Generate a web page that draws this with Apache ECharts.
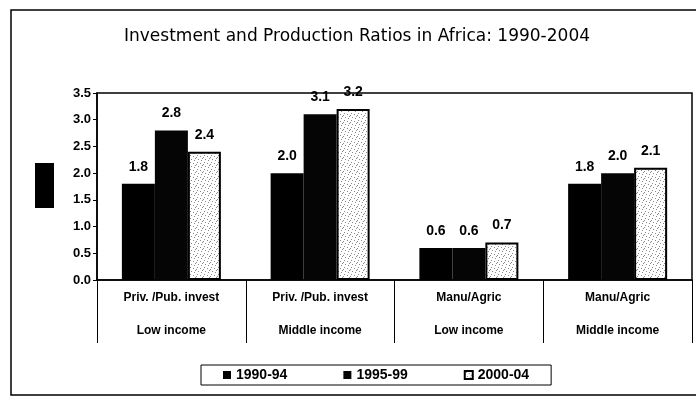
<!DOCTYPE html>
<html>
<head>
<meta charset="utf-8">
<script src="https://cdn.jsdelivr.net/npm/echarts@6/dist/echarts.min.js"></script>
<style>
html, body { margin: 0; padding: 0; background: #fff; }
#chart { width: 696px; height: 400px; }
</style>
</head>
<body>
<div id="chart"></div>
<script>
var measures = ['Priv. /Pub. invest', 'Priv. /Pub. invest', 'Manu/Agric', 'Manu/Agric'];
var incomeGroups = ['Low income', 'Middle income', 'Low income', 'Middle income'];
var periods = ['1990-94', '1995-99', '2000-04'];
var p1990 = [1.8, 2.0, 0.6, 1.8];
var p1995 = [2.8, 3.1, 0.6, 2.0];
var p2000 = [2.4, 3.2, 0.7, 2.1];
var yTicks = { min: 0, max: 3.5, step: 0.5 };

var categories = measures.map(function (m, i) { return m + '\n' + incomeGroups[i]; });

// grey speckle fill for the last period
function speckle() {
	var c = document.createElement('canvas');
	c.width = 7; c.height = 7;
	var g = c.getContext('2d');
	g.fillStyle = '#fff';
	g.fillRect(0, 0, 7, 7);
	g.fillStyle = '#8a8a8a';
	[[1, 1], [4, 2], [2, 5], [6, 4], [5, 6], [0, 3]].forEach(function (p) {
		g.fillRect(p[0], p[1], 1, 1);
	});
	return c;
}

var font = 'Liberation Sans, Arial, sans-serif';
var labelStyle = {
	show: true,
	position: 'top',
	distance: 10,
	color: '#000',
	fontFamily: font,
	fontWeight: 'bold',
	fontSize: 14,
	formatter: function (p) { return p.value.toFixed(1); }
};

var myChart = echarts.init(document.getElementById('chart'));
var option = {
	backgroundColor: '#fff',
	animation: false,
	title: {
		text: 'Investment and Production Ratios in Africa: 1990-2004',
		left: 119,
		top: 23,
		textStyle: { color: '#000', fontFamily: 'DejaVu Sans', fontWeight: 'normal', fontSize: 17 }
	},
	graphic: [{
		type: 'rect',
		shape: { x: 11, y: 10, width: 690, height: 385 },
		style: { fill: 'none', stroke: '#000', lineWidth: 1.5 },
		silent: true
	}, {
		type: 'rect',
		shape: { x: 35, y: 163, width: 19, height: 45 },
		style: { fill: '#000' },
		silent: true
	}],
	legend: {
		data: periods,
		top: 365,
		left: 201,
		icon: 'rect',
		itemWidth: 8,
		itemHeight: 8,
		itemGap: 56,
		padding: [3, 22],
		borderColor: '#000',
		borderWidth: 1,
		textStyle: { color: '#000', fontFamily: font, fontWeight: 'bold', fontSize: 14 }
	},
	grid: {
		left: 97,
		right: 4,
		top: 93,
		bottom: 120,
		show: true,
		borderColor: '#000',
		borderWidth: 1.5
	},
	xAxis: {
		type: 'category',
		data: categories,
		axisLine: { lineStyle: { color: '#000', width: 1.5 } },
		axisTick: { show: true, length: 63, lineStyle: { color: '#000', width: 1 } },
		axisLabel: {
			color: '#000',
			fontFamily: font,
			fontSize: 12,
			fontWeight: 'bold',
			lineHeight: 33,
			margin: 1
		}
	},
	yAxis: {
		type: 'value',
		min: yTicks.min,
		max: yTicks.max,
		interval: yTicks.step,
		axisLine: { show: true, lineStyle: { color: '#000', width: 1.5 } },
		axisTick: { show: true, length: 4, lineStyle: { color: '#000' } },
		splitLine: { show: false },
		axisLabel: {
			color: '#000',
			fontFamily: font,
			fontWeight: 'bold',
			fontSize: 13,
			margin: 6,
			formatter: function (v) { return v.toFixed(1); }
		}
	},
	series: [{
		name: periods[0],
		type: 'bar',
		data: p1990,
		barWidth: 33,
		barGap: '0%',
		itemStyle: { color: '#000' },
		label: labelStyle
	}, {
		name: periods[1],
		type: 'bar',
		data: p1995,
		barWidth: 33,
		barGap: '0%',
		itemStyle: { color: '#050505' },
		label: labelStyle
	}, {
		name: periods[2],
		type: 'bar',
		data: p2000,
		barWidth: 33,
		barGap: '0%',
		itemStyle: { color: { image: speckle(), repeat: 'repeat' }, borderColor: '#000', borderWidth: 2 },
		label: labelStyle
	}]
};
myChart.setOption(option);
</script>
</body>
</html>
